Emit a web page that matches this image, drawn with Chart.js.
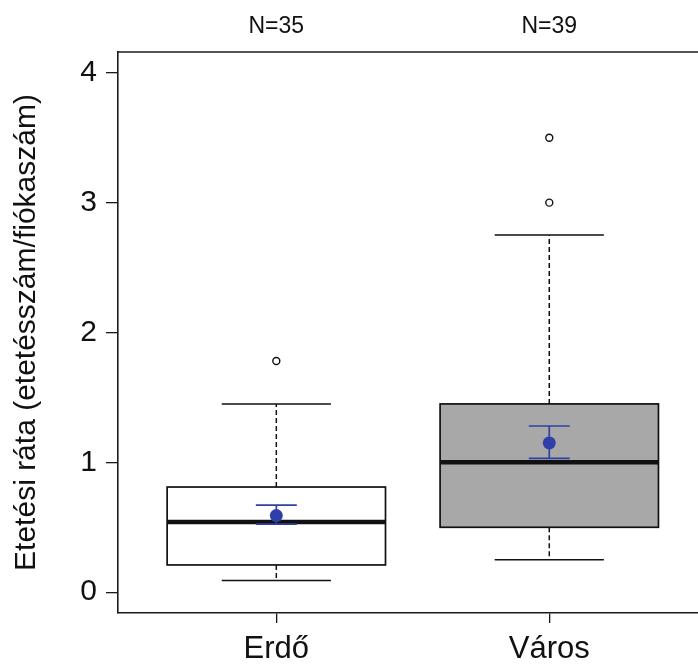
<!DOCTYPE html>
<html>
<head>
<meta charset="utf-8">
<script src="https://cdn.jsdelivr.net/npm/chart.js@4.4.1/dist/chart.umd.min.js"></script>
<style>
html,body{margin:0;padding:0;background:#fff;overflow:hidden;}
#wrap{width:710px;height:666px;}
</style>
</head>
<body>
<div id="wrap"><canvas id="c" width="710" height="666"></canvas></div>
<script>
// ---- data ----
const categories = ['Erdő', 'Város'];
const groupSizes = [35, 39];
const whiskerLow = [0.09, 0.25];
const q1 = [0.21, 0.50];
const median = [0.54, 1.00];
const q3 = [0.81, 1.45];
const whiskerHigh = [1.45, 2.75];
const outliers = [[1.78], [3.0, 3.5]];
const means = [0.59, 1.15];
const meanLow = [0.525, 1.03];
const meanHigh = [0.67, 1.28];
const yTicks = [0, 1, 2, 3, 4];
const boxFills = ['#ffffff', '#a8a8a8'];

const FONT = "'Liberation Sans', Arial, sans-serif";
const outlierPoints = [];
outliers.forEach((arr, i) => arr.forEach(v => outlierPoints.push({x: i + 1, y: v})));
const meanPoints = means.map((m, i) => ({x: i + 1, y: m}));

const boxPlugin = {
  id: 'boxes',
  beforeDatasetsDraw(chart) {
    const ctx = chart.ctx, xs = chart.scales.x, ys = chart.scales.y;
    const unit = xs.getPixelForValue(2) - xs.getPixelForValue(1);
    ctx.save();
    categories.forEach((c, i) => {
      const cx = xs.getPixelForValue(i + 1);
      const bw = unit * 0.8, cw = unit * 0.4;
      const yq1 = ys.getPixelForValue(q1[i]), yq3 = ys.getPixelForValue(q3[i]);
      const ylo = ys.getPixelForValue(whiskerLow[i]), yhi = ys.getPixelForValue(whiskerHigh[i]);
      const ymed = ys.getPixelForValue(median[i]);
      ctx.strokeStyle = '#111';
      ctx.lineWidth = 1.5;
      ctx.setLineDash([5, 3]);
      ctx.beginPath();
      ctx.moveTo(cx, yq3); ctx.lineTo(cx, yhi);
      ctx.moveTo(cx, yq1); ctx.lineTo(cx, ylo);
      ctx.stroke();
      ctx.setLineDash([]);
      ctx.beginPath();
      ctx.moveTo(cx - cw / 2, yhi); ctx.lineTo(cx + cw / 2, yhi);
      ctx.moveTo(cx - cw / 2, ylo); ctx.lineTo(cx + cw / 2, ylo);
      ctx.stroke();
      ctx.fillStyle = boxFills[i];
      ctx.fillRect(cx - bw / 2, yq3, bw, yq1 - yq3);
      ctx.lineWidth = 1.7;
      ctx.strokeRect(cx - bw / 2, yq3, bw, yq1 - yq3);
      ctx.lineWidth = 4.5;
      ctx.beginPath();
      ctx.moveTo(cx - bw / 2, ymed); ctx.lineTo(cx + bw / 2, ymed);
      ctx.stroke();
      const ew = unit * 0.15;
      const yml = ys.getPixelForValue(meanLow[i]), ymh = ys.getPixelForValue(meanHigh[i]);
      ctx.strokeStyle = '#3040a0';
      ctx.lineWidth = 1.7;
      ctx.beginPath();
      ctx.moveTo(cx, yml); ctx.lineTo(cx, ymh);
      ctx.moveTo(cx - ew / 2, yml); ctx.lineTo(cx + ew / 2, yml);
      ctx.moveTo(cx - ew / 2, ymh); ctx.lineTo(cx + ew / 2, ymh);
      ctx.stroke();
    });
    ctx.restore();
  },
  afterDraw(chart) {
    const ctx = chart.ctx, xs = chart.scales.x, ca = chart.chartArea;
    ctx.save();
    ctx.strokeStyle = '#1a1a1a';
    ctx.lineWidth = 1.6;
    ctx.beginPath();
    ctx.moveTo(ca.left, ca.top); ctx.lineTo(ca.right + 20, ca.top);
    ctx.stroke();
    ctx.fillStyle = '#111';
    ctx.font = '23px ' + FONT;
    ctx.textAlign = 'center';
    ctx.textBaseline = 'middle';
    groupSizes.forEach((n, i) => {
      ctx.fillText('N=' + n, xs.getPixelForValue(i + 1), 27);
    });
    ctx.restore();
  }
};

new Chart(document.getElementById('c'), {
  type: 'scatter',
  data: {
    datasets: [
      {
        label: 'outliers', data: outlierPoints,
        pointStyle: 'circle', pointRadius: 3.5, pointBorderWidth: 1.4,
        pointBorderColor: '#111', pointBackgroundColor: 'rgba(0,0,0,0)',
        pointHoverRadius: 3.5
      },
      {
        label: 'mean', data: meanPoints,
        pointStyle: 'circle', pointRadius: 6.5, pointBorderWidth: 0,
        pointBackgroundColor: '#2f3fa8', pointHoverRadius: 6.5
      }
    ]
  },
  options: {
    responsive: false,
    animation: false,
    events: [],
    layout: {padding: {top: 52, right: 3, left: 0, bottom: 0}},
    plugins: {legend: {display: false}, tooltip: {enabled: false}},
    scales: {
      x: {
        type: 'linear', min: 0.42, max: 2.565,
        afterBuildTicks(s) { s.ticks = categories.map((c, i) => ({value: i + 1})); },
        afterFit(s) { s.height = 53; },
        ticks: {
          autoSkip: false, maxRotation: 0,
          callback: (v) => categories[Math.round(v) - 1],
          font: {family: FONT, size: 31}, color: '#111', padding: 8
        },
        grid: {drawOnChartArea: false, drawTicks: true, tickLength: 10, color: '#1a1a1a', lineWidth: 1.3},
        border: {display: true, color: '#1a1a1a', width: 1.6}
      },
      y: {
        type: 'linear', min: -0.16, max: 4.16,
        afterBuildTicks(s) { s.ticks = yTicks.map(v => ({value: v})); },
        afterFit(s) { s.width = 118; },
        ticks: {
          font: {family: FONT, size: 30}, color: '#111', padding: 9
        },
        grid: {drawOnChartArea: false, drawTicks: true, tickLength: 12, color: '#1a1a1a', lineWidth: 1.3},
        border: {display: true, color: '#1a1a1a', width: 1.6},
        title: {
          display: true, text: 'Etetési ráta (etetésszám/fiókaszám)',
          font: {family: FONT, size: 30}, color: '#111', padding: {top: 9, bottom: 0}
        }
      }
    }
  },
  plugins: [boxPlugin]
});
</script>
</body>
</html>
